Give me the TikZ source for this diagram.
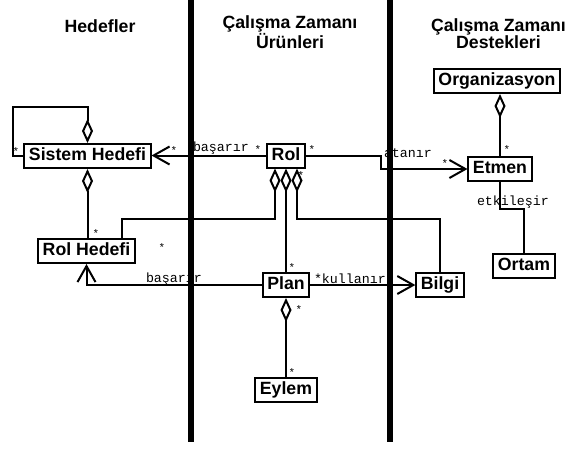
\documentclass[tikz,border=0pt]{standalone}
\usepackage{fontspec}
\setmainfont{Liberation Sans}
\newfontfamily\labelfont{Liberation Mono}
\usetikzlibrary{arrows.meta}

\begin{document}
\begin{tikzpicture}[x=1pt,y=-1pt,
  line width=2pt,
  box/.style={draw, line width=2pt, fill=white,
    font=\fontsize{17.7}{18}\selectfont\bfseries,
    inner xsep=4.5pt, inner ysep=3.5pt, text height=13pt, text depth=4pt},
  head/.style={font=\fontsize{17.7}{17}\selectfont\bfseries, align=center},
  lbl/.style={font=\fontsize{13.3}{14}\labelfont, inner sep=0pt},
  mult/.style={font=\fontsize{11}{12}\labelfont, inner sep=0pt, anchor=base},
  assoc/.style={-{Straight Barb[length=16pt,width=18pt]}},
  agg/.style={{Diamond[open,length=24pt,width=11pt]}-},
  bar/.style={line width=6pt, line cap=butt}
]
\fill[white] (0,0) rectangle (567,451);
\useasboundingbox (0,0) rectangle (567,451);

% column headings (base anchor = baseline of the last line)
\node[head, anchor=base] (h1) at (100,32) {Hedefler};
\node[head, anchor=base] (h2) at (290,48) {Çalışma Zamanı\\Ürünleri};
\node[head, anchor=base] (h3) at (498.5,48) {Çalışma Zamanı\\Destekleri};

% classes
\node[box] (sh)   at (87.5,156) {Sistem Hedefi};
\node[box] (rh)   at (86.5,251) {Rol Hedefi};
\node[box] (rol)  at (286,155.5) {Rol};
\node[box] (org)  at (497,81) {Organizasyon};
\node[box] (etm)  at (500,169) {Etmen};
\node[box] (ort)  at (524,266) {Ortam};
\node[box] (plan) at (286,285) {Plan};
\node[box] (bil)  at (440,285) {Bilgi};
\node[box] (eyl)  at (286,390) {Eylem};

% aggregations
\draw[-{Diamond[open,length=24pt,width=11pt]}] (sh.west) -- ++(-10,0)
  |- ([yshift=36pt]sh.north) -- (sh.north);
\draw[agg] (sh.south) -- (sh.south |- rh.north);
\coordinate (rolA) at ([xshift=-11pt]rol.south);
\coordinate (rolC) at ([xshift=11pt]rol.south);
\draw[agg] (rolA) -- (rolA |- 0,219) -| ([xshift=35pt]rh.north);
\draw[agg] (rol.south) -- (rol.south |- plan.north);
\draw[agg] (rolC) -- (rolC |- 0,219) -| (bil.north);
\draw[agg] (plan.south) -- (eyl.north);
\draw[agg] (org.south -| etm.north) -- (etm.north);

% associations
\draw[assoc] (rol.west) -- (rol.west -| sh.east);
\draw[assoc] (rol.east) -- ++(75,0) |- (etm.west);
\draw[assoc] (plan.west) -| (rh.south);
\draw[assoc] (plan.east) -- (plan.east -| bil.west);
\draw (etm.south) -- (etm.south |- 0,209) -| (ort.north);

% association names
\node[lbl, anchor=base west] (n1) at (192,151) {başarır};
\node[lbl, anchor=base west] (n2) at (383,157) {atanır};
\node[lbl, anchor=base west] (n3) at (476,205) {etkileşir};
\node[lbl, anchor=base west] (n4) at (145,282) {başarır};
\node[lbl, anchor=base west] (n5) at (313,283) {*kullanır};

% multiplicities
\node[mult] (m1)  at (16,155.5)  {*};
\node[mult] (m2)  at (174,154.5) {*};
\node[mult] (m3)  at (258,153.5) {*};
\node[mult] (m4)  at (312,153.5) {*};
\node[mult] (m5)  at (445,167.5) {*};
\node[mult] (m6)  at (507,153.5) {*};
\node[mult] (m7)  at (96,237.5)  {*};
\node[mult] (m8)  at (162,251.5) {*};
\node[mult] (m9)  at (301,179.5) {*};
\node[mult] (m10) at (292,271.5) {*};
\node[mult] (m11) at (299,313.5) {*};
\node[mult] (m12) at (292,376.5) {*};

% swimlane separators
\draw[bar] (191,0) -- (191,442);
\draw[bar] (390,0) -- (390,442);
\end{tikzpicture}
\end{document}
